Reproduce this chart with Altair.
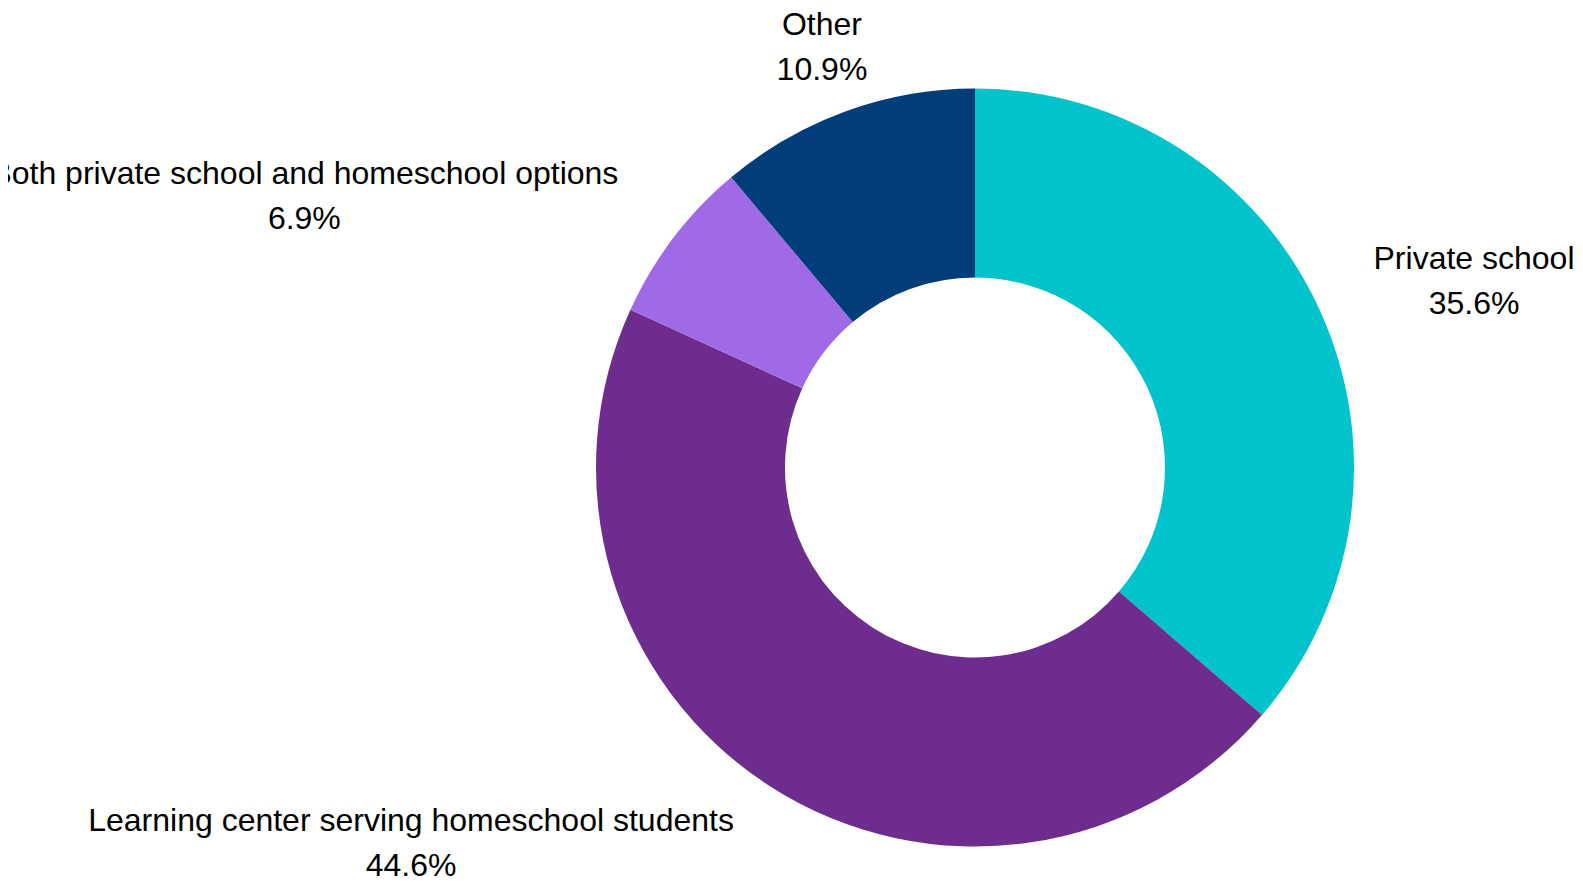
import altair as alt
import pandas as pd

categories = [
    "Private school",
    "Learning center serving homeschool students",
    "Both private school and homeschool options",
    "Other",
]
values = [35.6, 44.6, 6.9, 10.9]
colors = ["#00C3CC", "#6E2C8E", "#A06AE6", "#003D7A"]

df = pd.DataFrame({"category": categories, "value": values, "order": list(range(len(categories)))})

W, H = 1567, 872
CX, CY = 967, 459.5
R_OUT, R_IN = 379, 190
R_LABEL = 447
FONT = 32
LINE_H = 44.5
CHAR_W = 15.0

base = alt.Chart(df)

arc = base.mark_arc(outerRadius=R_OUT, innerRadius=R_IN, stroke=None).encode(
    theta=alt.Theta("value:Q", stack=True),
    order=alt.Order("order:Q", sort="ascending"),
    color=alt.Color("category:N", scale=alt.Scale(domain=categories, range=colors), legend=None),
    x=alt.value(CX),
    y=alt.value(CY),
)

labels = (
    base.transform_joinaggregate(total="sum(value)")
    .transform_window(cum="sum(value)", sort=[alt.SortField("order", order="ascending")])
    .transform_calculate(
        mid="(datum.cum - datum.value / 2) / datum.total * 2 * PI",
        s="sin(datum.mid)",
        side="datum.s > 0.5 ? 1 : (datum.s < -0.5 ? -1 : 0)",
        w=f"length(datum.category) * {CHAR_W}",
        lx0=f"{CX} + {R_LABEL} * sin(datum.mid) + datum.side * datum.w / 2",
        lx=f"min(datum.lx0, {W} - datum.w / 2 + 4)",
        ly=f"{CY} - {R_LABEL} * cos(datum.mid) - {LINE_H} / 2",
        label="datum.category + '\\n' + format(datum.value, '.1f') + '%'",
    )
    .mark_text(
        font="Liberation Sans",
        fontSize=FONT,
        color="#000000",
        align="center",
        baseline="middle",
        lineBreak="\n",
        lineHeight=LINE_H,
    )
    .encode(
        x=alt.X("lx:Q", scale=None, axis=None),
        y=alt.Y("ly:Q", scale=None, axis=None),
        text="label:N",
    )
)

chart = (
    alt.layer(arc, labels)
    .properties(
        width=W,
        height=H,
        padding=0,
        background="white",
        autosize=alt.AutoSizeParams(type="none"),
    )
    .configure_view(stroke=None)
)

chart.save("out.html", embed_options={"renderer": "svg", "actions": False})
